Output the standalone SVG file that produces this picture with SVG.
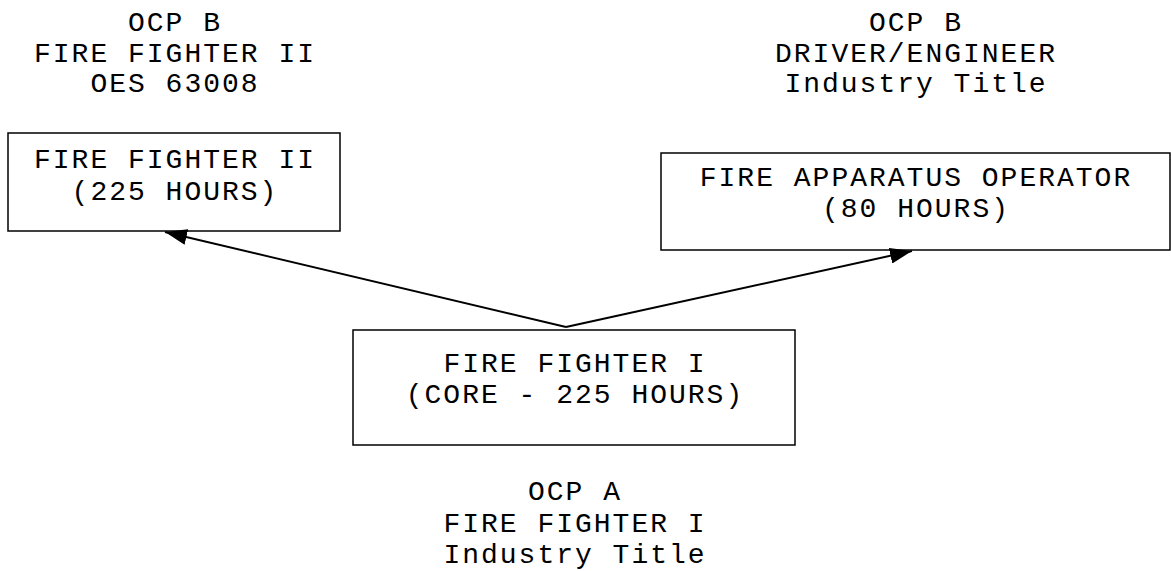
<svg xmlns="http://www.w3.org/2000/svg" width="1171" height="571" viewBox="0 0 1171 571">
<defs>
<style>
text{font-family:"Liberation Mono","Courier New",monospace;font-size:28px;letter-spacing:2px;fill:#000;text-anchor:middle}
.box{fill:#fff;stroke:#000;stroke-width:1.5}
.conn{stroke:#000;stroke-width:2;fill:none}
</style>
<marker id="ah" viewBox="0 0 22 16" refX="22" refY="8" markerWidth="22" markerHeight="16" markerUnits="userSpaceOnUse" orient="auto">
<path d="M0,0 L22,8 L0,16 z" fill="#000"/>
</marker>
</defs>
<rect width="1171" height="571" fill="#fff"/>
<g id="label-left">
<text x="175" y="31">OCP B</text>
<text x="175" y="62">FIRE FIGHTER II</text>
<text x="175" y="92">OES 63008</text>
</g>
<g id="label-right">
<text x="916" y="31">OCP B</text>
<text x="916" y="62">DRIVER/ENGINEER</text>
<text x="916" y="92">Industry Title</text>
</g>
<g id="label-bottom">
<text x="575" y="500">OCP A</text>
<text x="575" y="532">FIRE FIGHTER I</text>
<text x="575" y="563">Industry Title</text>
</g>
<g id="node-ff2">
<rect class="box" x="8" y="133" width="332" height="98"/>
<text x="175" y="168">FIRE FIGHTER II</text>
<text x="175" y="200">(225 HOURS)</text>
</g>
<g id="node-fao">
<rect class="box" x="661" y="153" width="509" height="97"/>
<text x="916" y="186">FIRE APPARATUS OPERATOR</text>
<text x="916" y="217">(80 HOURS)</text>
</g>
<g id="node-ff1">
<rect class="box" x="353" y="330" width="442" height="115"/>
<text x="575" y="372">FIRE FIGHTER I</text>
<text x="575" y="403">(CORE - 225 HOURS)</text>
</g>
<g id="connectors">
<line class="conn" x1="566" y1="327" x2="165" y2="232" marker-end="url(#ah)"/>
<line class="conn" x1="566" y1="327" x2="912" y2="251" marker-end="url(#ah)"/>
</g>
</svg>
